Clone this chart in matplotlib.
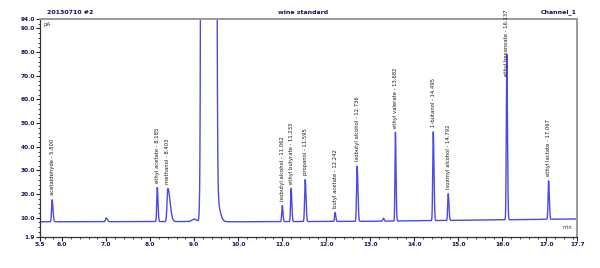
import numpy as np
import matplotlib
matplotlib.use("Agg")
import matplotlib.pyplot as plt
from matplotlib.ticker import MultipleLocator, FixedLocator

# peak table
names = ["acetaldehyde - 5.800", None, "ethyl acetate - 8.185", "methanol - 8.403",
         None, None, None,
         "isobutyl alcohol - 11.062", "ethyl butyrate - 11.233", "propanol - 11.595",
         "butyl acetate - 12.242", "isobutyl alcohol - 12.736", None,
         "ethyl valerate - 13.682", "1-butanol - 14.495", "isoamyl alcohol - 14.792",
         "ethyl hexanoate - 16.137", "ethyl lactate - 17.067"]
rt = [5.77, 7.00, 8.16, 8.40, 9.00, 9.33, 9.50, 11.00, 11.20, 11.52, 12.20, 12.70, 13.30,
      13.57, 14.43, 14.77, 16.10, 17.05]
height = [9.3, 1.6, 14.4, 14.0, 1.0, 1e6, 10.0, 6.8, 14.0, 17.7, 3.8, 23.4, 1.2,
          37.5, 37.5, 11.3, 70.0, 16.3]
sig_l = [0.012, 0.015, 0.012, 0.018, 0.05, 0.044, 0.03, 0.012, 0.012, 0.013, 0.012, 0.013, 0.015,
         0.010, 0.012, 0.012, 0.011, 0.012]
sig_r = [0.020, 0.025, 0.016, 0.050, 0.05, 0.044, 0.07, 0.015, 0.016, 0.018, 0.015, 0.018, 0.015,
         0.014, 0.016, 0.016, 0.015, 0.016]
base_t = [5.5, 9.0, 10.0, 13.0, 17.7]
base_v = [8.3, 8.4, 8.3, 8.5, 9.5]

xticks = [5.5, 6.0, 7.0, 8.0, 9.0, 10.0, 11.0, 12.0, 13.0, 14.0, 15.0, 16.0, 17.0, 17.7]
yticks = [1.9, 10.0, 20.0, 30.0, 40.0, 50.0, 60.0, 70.0, 80.0, 90.0, 94.0]

t = np.linspace(5.5, 17.7, 6000)
sig = np.interp(t, base_t, base_v)
for c, h, sl, sr in zip(rt, height, sig_l, sig_r):
    s = np.where(t < c, sl, sr)
    sig = sig + h * np.exp(-0.5 * ((t - c) / s) ** 2)

navy = "#14145a"
line_c = "#4a4ae8"

fig = plt.figure(figsize=(6.0, 2.68), dpi=100)
ax = fig.add_axes([0.067, 0.116, 0.895, 0.813])
ax.plot(t, sig, color=line_c, lw=1.0)
ax.set_xlim(5.5, 17.7)
ax.set_ylim(1.9, 94.0)

ax.xaxis.set_major_locator(FixedLocator(xticks))
ax.yaxis.set_major_locator(FixedLocator(yticks))
ax.xaxis.set_minor_locator(MultipleLocator(0.2))
ax.yaxis.set_minor_locator(MultipleLocator(2))
ax.set_xticklabels([f"{v:.1f}" for v in xticks])
ax.set_yticklabels([f"{v:.1f}" for v in yticks])
ax.tick_params(which="major", length=3, width=0.8, labelsize=4.2, colors="#222222",
               labelcolor=navy, pad=1)
ax.tick_params(which="minor", length=1.5, width=0.6, colors="#222222")
for lab in ax.get_xticklabels() + ax.get_yticklabels():
    lab.set_fontweight("bold")

for sp in ["top", "right"]:
    ax.spines[sp].set_color("#9a9a9a")
    ax.spines[sp].set_linewidth(1.4)
for sp in ["left", "bottom"]:
    ax.spines[sp].set_color("#333333")
    ax.spines[sp].set_linewidth(0.9)

# peak labels
for name, c, h in zip(names, rt, height):
    if name is None:
        continue
    top = np.interp(c, base_t, base_v) + h
    ax.text(c, min(top + 2.0, 70.0), name, rotation=90, ha="center", va="bottom",
            fontsize=3.8, color="#1a1a1a", clip_on=False)

ax.text(0.006, 0.985, "pA", transform=ax.transAxes, fontsize=4, color="#333333",
        ha="left", va="top")
ax.text(0.99, 0.03, "min", transform=ax.transAxes, fontsize=3.6, color="#333333",
        ha="right", va="bottom")

fig.text(0.078, 0.945, "20130710 #2", fontsize=4.5, fontweight="bold", color=navy,
         ha="left", va="bottom")
fig.text(0.505, 0.945, "wine standard", fontsize=4.5, fontweight="bold", color=navy,
         ha="center", va="bottom")
fig.text(0.962, 0.945, "Channel_1", fontsize=4.5, fontweight="bold", color=navy,
         ha="right", va="bottom")

fig.savefig("out.png", dpi=100)
